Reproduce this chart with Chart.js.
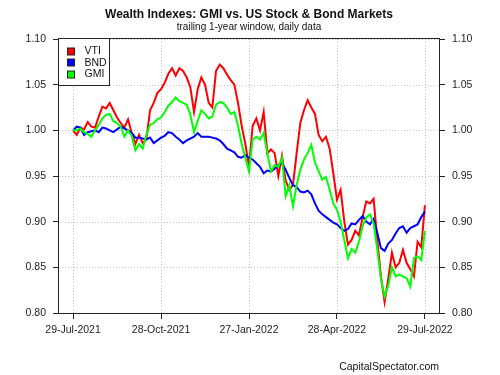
<!DOCTYPE html>
<html>
<head>
<meta charset="utf-8">
<script src="https://cdn.jsdelivr.net/npm/chart.js@4.4.0/dist/chart.umd.min.js"></script>
<style>
  html, body { margin: 0; padding: 0; background: #fff; }
</style>
</head>
<body>
<canvas id="grafic" width="500" height="375"></canvas>
<script>
const seriesNames = ['VTI', 'BND', 'GMI'];
const seriesColors = ['#ff0000', '#0000ff', '#00ff00'];
const dateLabels = ['29-Jul-2021', '28-Oct-2021', '27-Jan-2022', '28-Apr-2022', '29-Jul-2022'];
const yTicks = [0.80, 0.85, 0.90, 0.95, 1.00, 1.05, 1.10];

const vti = [
  1.000, 0.995, 1.003, 1.001, 1.009, 1.004, 1.003, 1.015, 1.026, 1.024,
  1.030, 1.022, 1.014, 1.008, 1.003, 1.012, 0.997, 0.985, 0.995, 0.986,
  0.990, 1.022, 1.030, 1.041, 1.045, 1.052, 1.062, 1.068, 1.060, 1.068,
  1.065, 1.058, 1.047, 1.020, 1.045, 1.058, 1.050, 1.030, 1.025, 1.065,
  1.072, 1.068, 1.061, 1.055, 1.050, 1.030, 1.005, 0.985, 0.960, 1.005,
  1.013, 1.000, 1.020, 0.975, 0.979, 0.975, 0.950, 0.972, 0.945, 0.935,
  0.940, 0.975, 1.008, 1.022, 1.033, 1.025, 1.018, 0.995, 0.988, 0.993,
  0.980, 0.953, 0.924, 0.935, 0.900, 0.875, 0.880, 0.890, 0.885, 0.905,
  0.922, 0.920, 0.925, 0.880, 0.840, 0.812, 0.838, 0.866, 0.850, 0.855,
  0.869, 0.855, 0.848, 0.840, 0.878, 0.872, 0.918
];
const bnd = [
  1.000, 1.004, 1.003, 0.995, 0.998, 0.999, 1.000, 0.998, 1.003, 1.002,
  1.000, 0.998, 1.001, 1.004, 1.002, 1.000, 0.997, 0.992, 0.992, 0.991,
  0.990, 0.992, 0.986, 0.989, 0.992, 0.994, 0.998, 0.997, 0.993, 0.990,
  0.986, 0.989, 0.991, 0.993, 0.997, 0.993, 0.993, 0.993, 0.992, 0.991,
  0.989, 0.985, 0.980, 0.978, 0.976, 0.971, 0.970, 0.973, 0.970, 0.968,
  0.964, 0.960, 0.953, 0.956, 0.955, 0.958, 0.962, 0.964, 0.957, 0.948,
  0.940, 0.938, 0.933, 0.932, 0.934, 0.930, 0.920, 0.912, 0.908, 0.905,
  0.902, 0.899, 0.897, 0.893, 0.890, 0.892, 0.898, 0.897, 0.902, 0.906,
  0.900, 0.897, 0.903, 0.888, 0.871, 0.868, 0.876, 0.880, 0.887, 0.893,
  0.895, 0.888, 0.893, 0.895, 0.897, 0.905, 0.911
];
const gmi = [
  1.000, 1.000, 1.002, 0.998, 0.996, 0.993, 1.000, 1.006, 1.013, 1.017,
  1.018, 1.010, 1.008, 1.004, 0.993, 1.000, 0.994, 0.978, 0.985, 0.980,
  0.995, 1.006, 1.008, 1.012, 1.014, 1.020, 1.027, 1.031, 1.036, 1.032,
  1.030, 1.028, 1.017, 0.998, 1.010, 1.022, 1.018, 1.013, 1.015, 1.028,
  1.031, 1.030, 1.025, 1.018, 1.020, 1.005, 0.985, 0.970, 0.955, 0.990,
  0.993, 0.990, 0.997, 0.975, 0.955, 0.962, 0.960, 0.970, 0.928, 0.940,
  0.917, 0.940, 0.957, 0.968, 0.975, 0.984, 0.965, 0.955, 0.946, 0.949,
  0.935, 0.920, 0.913, 0.900, 0.880, 0.860, 0.870, 0.866, 0.878, 0.895,
  0.905, 0.908, 0.898, 0.870, 0.837, 0.818, 0.830, 0.850, 0.840, 0.842,
  0.840, 0.838, 0.829, 0.860, 0.862, 0.858, 0.890
];

const seriesValues = [vti, bnd, gmi];
const nPts = vti.length;
const tickIdx = dateLabels.map((d, i) => Math.round(i * (nPts - 1) / (dateLabels.length - 1)));
const xPad = (nPts - 1) * 0.04;
const fontFam = "'Liberation Sans', Arial, sans-serif";

// dotted grid under the lines
const gridPlugin = {
  id: 'gridPlugin',
  beforeDatasetsDraw(chart) {
    const { ctx, chartArea: a, scales } = chart;
    ctx.save();
    ctx.strokeStyle = '#c4c4c4';
    ctx.lineWidth = 1;
    ctx.setLineDash([1, 2]);
    yTicks.forEach(v => {
      const py = Math.round(scales.y.getPixelForValue(v)) + 0.5;
      ctx.beginPath(); ctx.moveTo(a.left, py); ctx.lineTo(a.right, py); ctx.stroke();
    });
    tickIdx.forEach(v => {
      const px = Math.round(scales.x.getPixelForValue(v)) + 0.5;
      ctx.beginPath(); ctx.moveTo(px, a.top); ctx.lineTo(px, a.bottom); ctx.stroke();
    });
    ctx.restore();
  }
};

// box, legend, titles
const decorPlugin = {
  id: 'decorPlugin',
  afterDraw(chart) {
    const { ctx, chartArea: a } = chart;
    ctx.save();
    ctx.strokeStyle = '#222';
    ctx.lineWidth = 1;
    ctx.strokeRect(Math.round(a.left) - 0.5, Math.round(a.top) - 0.5,
                   Math.round(a.right - a.left) + 1, Math.round(a.bottom - a.top) + 1);

    // legend
    const lx = Math.round(a.left) - 0.5, ly = Math.round(a.top) - 0.5;
    ctx.fillStyle = '#fff';
    ctx.fillRect(lx, ly, 51, 47);
    ctx.strokeRect(lx, ly, 51, 47);
    ctx.font = '10.5px ' + fontFam;
    ctx.textBaseline = 'middle';
    ctx.textAlign = 'left';
    seriesNames.forEach((name, i) => {
      const cy = ly + 12.5 + i * 11.8;
      ctx.fillStyle = seriesColors[i];
      ctx.fillRect(lx + 9, Math.round(cy - 3.5), 7, 7);
      ctx.strokeStyle = '#222';
      ctx.strokeRect(lx + 9, Math.round(cy - 3.5), 7, 7);
      ctx.fillStyle = '#111';
      ctx.fillText(name, lx + 26, cy);
    });

    // titles
    const cx = (a.left + a.right) / 2;
    ctx.textAlign = 'center';
    ctx.fillStyle = '#111';
    ctx.font = 'bold 12px ' + fontFam;
    ctx.fillText('Wealth Indexes: GMI vs. US Stock & Bond Markets', cx, 14.5);
    ctx.font = '10px ' + fontFam;
    ctx.fillText('trailing 1-year window, daily data', cx, 27);
    ctx.textAlign = 'right';
    ctx.font = '10.5px ' + fontFam;
    ctx.fillText('CapitalSpectator.com', a.right, 367);
    ctx.restore();
  }
};

const yAxisCommon = {
  type: 'linear',
  min: 0.80,
  max: 1.10,
  border: { display: false },
  grid: { drawOnChartArea: false, drawTicks: true, tickLength: 6, tickColor: '#222', tickWidth: 1 },
  afterBuildTicks: s => { s.ticks = yTicks.map(v => ({ value: v })); },
  ticks: {
    padding: 7,
    color: '#222',
    font: { family: fontFam, size: 10.5 },
    callback: v => Number(v).toFixed(2)
  }
};

document.addEventListener('DOMContentLoaded', function () {
  const ctx = document.getElementById('grafic').getContext('2d');
  new Chart(ctx, {
    type: 'line',
    data: {
      datasets: seriesNames.map((name, k) => ({
        label: name,
        data: seriesValues[k].map((v, i) => ({ x: i, y: v })),
        borderColor: seriesColors[k],
        backgroundColor: seriesColors[k],
        borderWidth: 2,
        pointRadius: 0,
        tension: 0,
        fill: false,
        order: seriesNames.length - k
      }))
    },
    options: {
      responsive: false,
      animation: false,
      layout: { padding: { top: 39, left: 0, right: 0, bottom: 0 } },
      plugins: {
        legend: { display: false },
        title: { display: false },
        tooltip: { enabled: false }
      },
      scales: {
        x: {
          type: 'linear',
          min: -xPad,
          max: nPts - 1 + xPad,
          border: { display: false },
          grid: { drawOnChartArea: false, drawTicks: true, tickLength: 6, tickColor: '#222', tickWidth: 1 },
          afterBuildTicks: s => { s.ticks = tickIdx.map(v => ({ value: v })); },
          afterFit: s => { s.height = 62; },
          ticks: {
            autoSkip: false,
            maxRotation: 0,
            padding: 5,
            color: '#222',
            font: { family: fontFam, size: 10.5 },
            callback: (v, i) => dateLabels[i]
          }
        },
        y: Object.assign({}, yAxisCommon, { position: 'left', afterFit: s => { s.width = 59; } }),
        y2: Object.assign({}, yAxisCommon, { position: 'right', afterFit: s => { s.width = 61; } })
      }
    },
    plugins: [gridPlugin, decorPlugin]
  });
});
</script>
</body>
</html>
